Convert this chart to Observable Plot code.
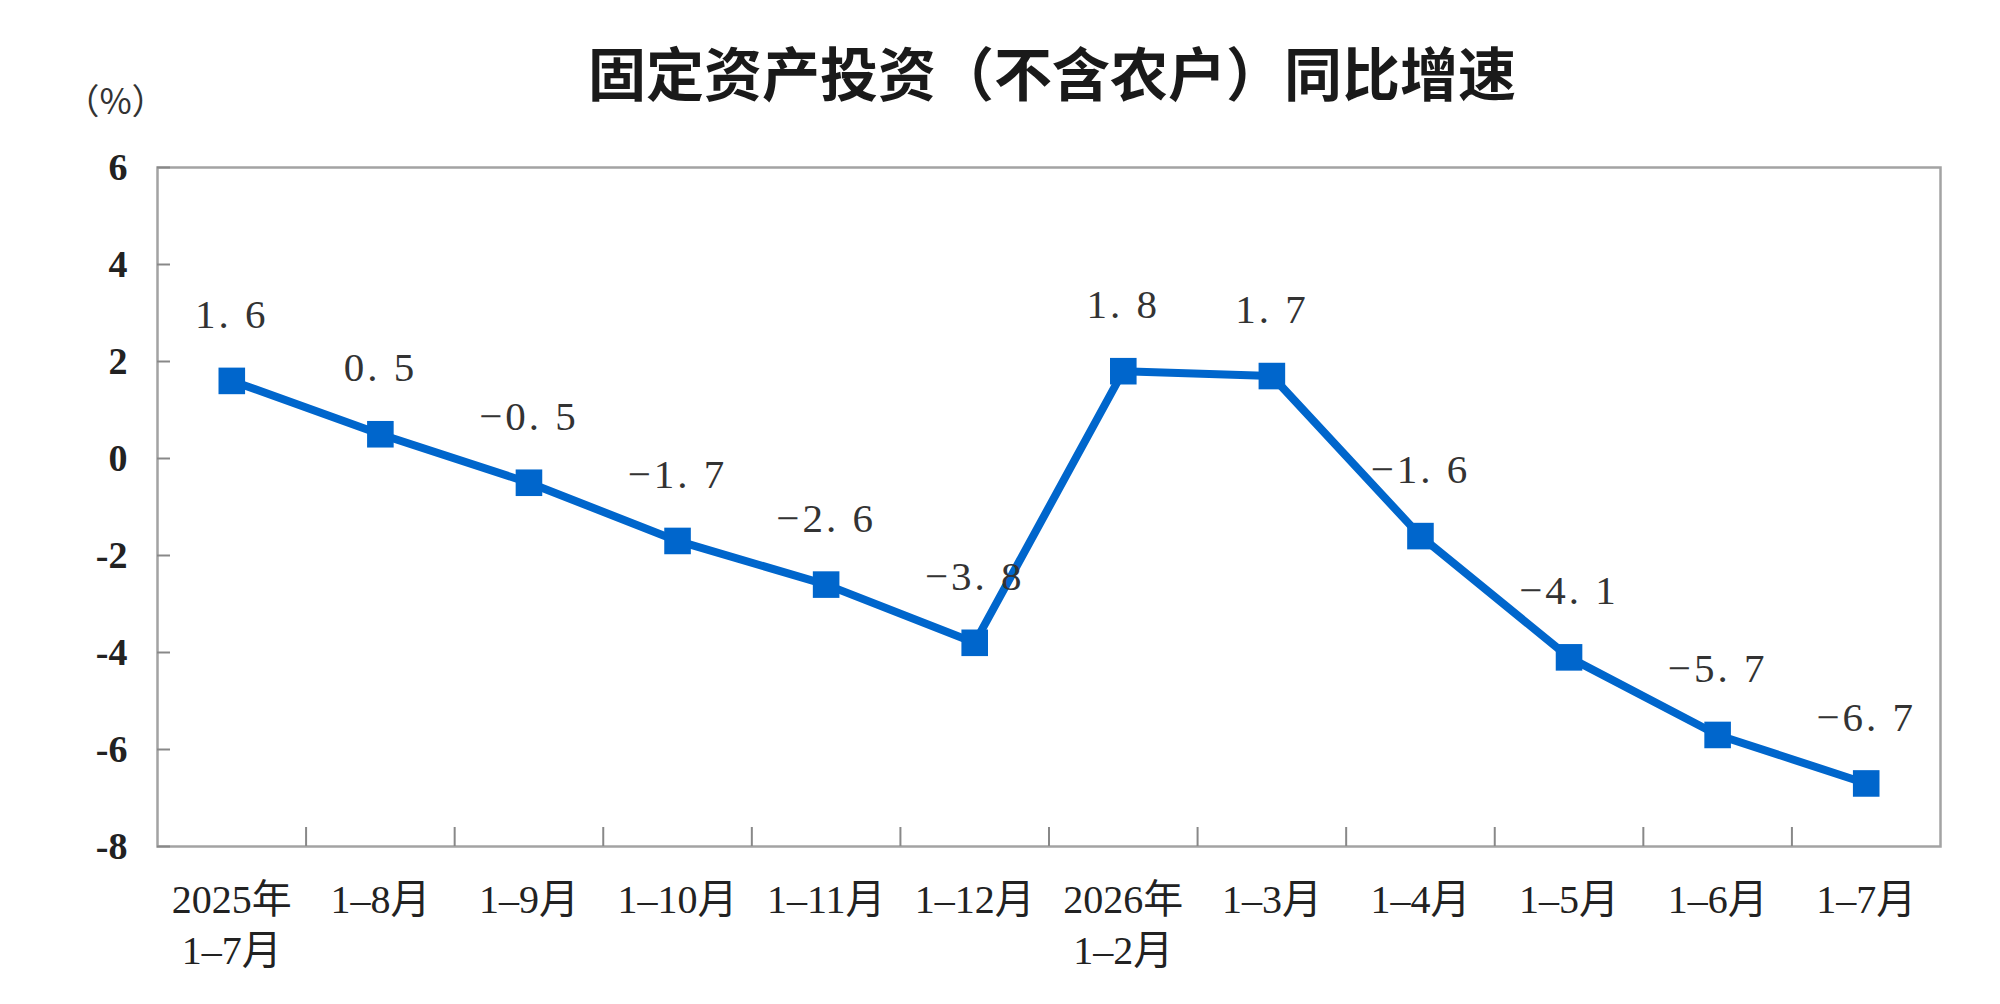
<!DOCTYPE html>
<html>
<head>
<meta charset="utf-8">
<script src="https://cdn.jsdelivr.net/npm/d3@7"></script>
<script src="https://cdn.jsdelivr.net/npm/@observablehq/plot@0.6"></script>
<style>
  html, body { margin: 0; padding: 0; background: #fff; }
  .vlabel text { letter-spacing: 3px; }
</style>
</head>
<body>
<div id="chart"></div>
<script>
const titleText = "固定资产投资（不含农户）同比增速";
const unitText = "（%）";
const categories = ["2025年\n1–7月", "1–8月", "1–9月", "1–10月", "1–11月", "1–12月", "2026年\n1–2月", "1–3月", "1–4月", "1–5月", "1–6月", "1–7月"];
const values = [1.6, 0.5, -0.5, -1.7, -2.6, -3.8, 1.8, 1.7, -1.6, -4.1, -5.7, -6.7];
const yTicks = [6, 4, 2, 0, -2, -4, -6, -8];

const fmt = v => v.toFixed(1).replace(".", ". ").replace("-", "−");
const data = categories.map((c, i) => ({i, c, v: values[i], label: fmt(values[i])}));
const boundaries = d3.range(0.5, categories.length - 1, 1);

const serif = "'Liberation Serif', 'Noto Sans CJK SC', serif";
const blue = "#0066cc";
const gray = "#a3a3a3";

const chart = Plot.plot({
  width: 2000,
  height: 1004,
  marginLeft: 157,
  marginRight: 60,
  marginTop: 167,
  marginBottom: 158,
  style: {background: "#fff", overflow: "visible"},
  x: {domain: [-0.5, categories.length - 0.5], axis: null},
  y: {domain: [-8, 6], axis: null},
  marks: [
    Plot.frame({stroke: gray, strokeWidth: 2.5}),
    Plot.axisY(yTicks, {tickSize: -13, fill: "none", stroke: "#888", strokeWidth: 2, label: null}),
    Plot.axisY(yTicks, {tickSize: 0, tickPadding: 30, tickFormat: d => String(d), fontSize: 38, fontWeight: "bold", fontFamily: serif, fill: "#222", label: null}),
    Plot.axisX(boundaries, {tickSize: -19, fill: "none", stroke: "#888", strokeWidth: 2, label: null}),
    Plot.text(data, {x: "i", text: "c", frameAnchor: "bottom", dy: 30, lineAnchor: "top", lineHeight: 1.28, fontSize: 40, fontFamily: serif, fill: "#222"}),
    Plot.line(data, {x: "i", y: "v", stroke: blue, strokeWidth: 8}),
    Plot.dot(data, {x: "i", y: "v", symbol: "square", r: 15, fill: blue, stroke: "none"}),
    Plot.text(data, {x: "i", y: "v", text: "label", dy: -66, fontSize: 41, fontFamily: serif, fill: "#333", className: "vlabel"}),
    Plot.text([titleText], {text: d => d, frameAnchor: "top", lineAnchor: "middle", dy: -90, dx: 3, fontSize: 58, fontWeight: "bold", fontFamily: "'Noto Sans CJK SC', sans-serif", fill: "#1a1a1a"}),
    Plot.text([unitText], {text: d => d, frameAnchor: "top-left", lineAnchor: "middle", dx: -42, dy: -65, textAnchor: "middle", fontSize: 35, fontFamily: "'Noto Sans CJK SC', serif", fill: "#333"})
  ]
});
document.getElementById("chart").appendChild(chart);
</script>
</body>
</html>
